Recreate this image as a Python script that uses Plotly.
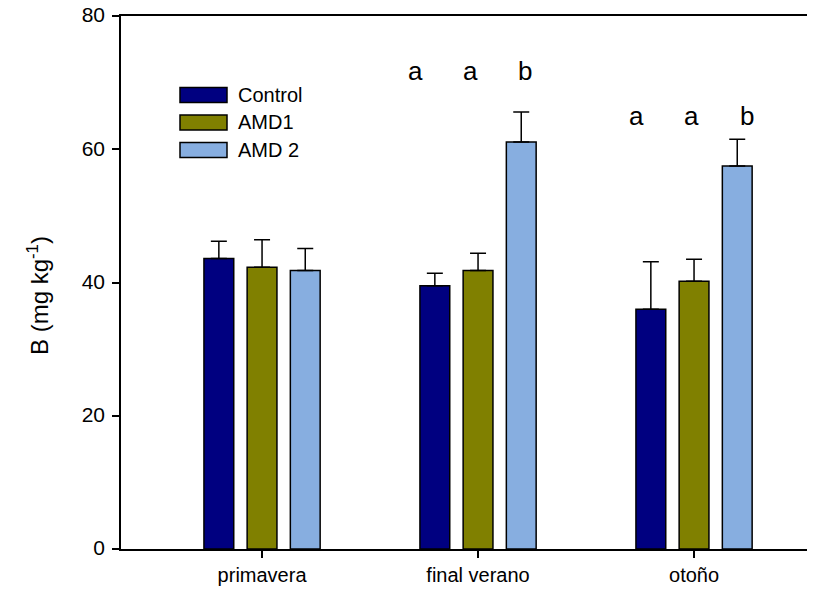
import plotly.graph_objects as go

categories = ["primavera", "final verano", "otoño"]
series_names = ["Control", "AMD1", "AMD 2"]
control = [43.6, 39.5, 36.0]
control_err = [2.6, 1.9, 7.1]
amd1 = [42.3, 41.8, 40.2]
amd1_err = [4.1, 2.6, 3.3]
amd2 = [41.8, 61.1, 57.5]
amd2_err = [3.3, 4.5, 4.0]
colors = ["#000080", "#808000", "#87AEE0"]

letters_cat = [1, 1, 1, 2, 2, 2]
letters_text = ["a", "a", "b", "a", "a", "b"]
letters_offset = [-0.29, -0.037, 0.218, -0.265, -0.011, 0.244]
letters_y = [71.8, 71.8, 71.8, 65.0, 65.0, 65.0]

x = list(range(len(categories)))
fig = go.Figure()
for name, vals, errs, col in zip(series_names, [control, amd1, amd2],
                                  [control_err, amd1_err, amd2_err], colors):
    fig.add_trace(go.Bar(
        x=x, y=vals, name=name, marker=dict(color=col, line=dict(color="black", width=1.5)),
        error_y=dict(type="data", array=errs, arrayminus=[0] * len(errs), symmetric=False,
                     color="black", thickness=1.5, width=8),
        showlegend=False,
    ))

font = "Arial, Liberation Sans, sans-serif"
for c, t, o, yv in zip(letters_cat, letters_text, letters_offset, letters_y):
    fig.add_annotation(x=c + o, y=yv, text=t, showarrow=False,
                       font=dict(family=font, size=26, color="black"),
                       xanchor="center", yanchor="middle")

# legend drawn manually (pixel positions relative to page, body offset 8px)
OFF = 8
L, T, W, H = 121, 16, 694, 533
def px_x(p):
    return (p - L) / W
def px_y(p):
    return (T + H - p) / H
row_y = [95, 122.5, 150]
for name, col, ry in zip(series_names, colors, row_y):
    fig.add_shape(type="rect", xref="paper", yref="paper",
                  x0=px_x(180), x1=px_x(227), y0=px_y(ry + 7.5), y1=px_y(ry - 7.5),
                  fillcolor=col, line=dict(color="black", width=1.5))
    fig.add_annotation(xref="paper", yref="paper", x=px_x(236), y=px_y(ry), text=name,
                       showarrow=False, xanchor="left", yanchor="middle",
                       font=dict(family=font, size=20, color="black"))

# y-axis title
fig.add_annotation(xref="paper", yref="paper", x=px_x(38), y=px_y(296),
                   text="B (mg kg<sup>-1</sup>)", textangle=-90, showarrow=False,
                   xanchor="center", yanchor="middle",
                   font=dict(family=font, size=24, color="black"))

fig.update_layout(
    width=815 - OFF, height=590 - OFF,
    margin=dict(l=L - OFF, r=0, t=T - OFF, b=590 - (T + H), autoexpand=False),
    barmode="group", bargap=0.4, bargroupgap=0.31,
    plot_bgcolor="white", paper_bgcolor="white",
    font=dict(family=font, size=20, color="black"),
)
fig.update_xaxes(range=[-0.653, 2.56], tickvals=x, ticktext=categories,
                 showline=True, linecolor="black", linewidth=1.5, mirror=True,
                 ticks="outside", ticklen=7, tickwidth=1.5, tickcolor="black",
                 showgrid=False, zeroline=False, tickfont=dict(size=20),
                 ticklabeloverflow="allow", automargin=False)
fig.update_yaxes(range=[0, 80], tickvals=[0, 20, 40, 60, 80],
                 showline=True, linecolor="black", linewidth=1.5,
                 ticks="outside", ticklen=7, tickwidth=1.5, tickcolor="black",
                 showgrid=False, zeroline=False, tickfont=dict(size=21),
                 ticklabeloverflow="allow", automargin=False,
                 ticklabelstandoff=3, ticklabelshift=-1)

fig.write_html("out.html")
